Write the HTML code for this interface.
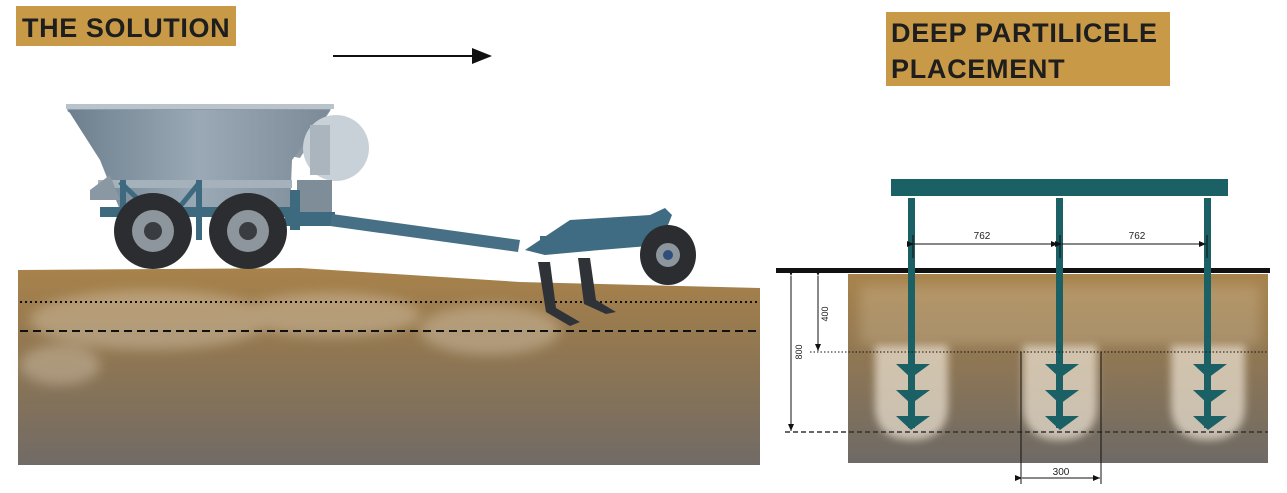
<!DOCTYPE html>
<html><head><meta charset="utf-8"><style>
html,body{margin:0;padding:0;background:#fff;width:1287px;height:493px;overflow:hidden}
svg{display:block}
</style></head><body>
<svg width="1287" height="493" viewBox="0 0 1287 493" xmlns="http://www.w3.org/2000/svg" font-family="Liberation Sans, sans-serif">
<defs>
<linearGradient id="soil" x1="0" y1="0" x2="0" y2="1">
<stop offset="0" stop-color="#a8824a"/><stop offset="0.45" stop-color="#8f7652"/><stop offset="1" stop-color="#716b66"/></linearGradient>
<linearGradient id="soil2" x1="0" y1="0" x2="0" y2="1">
<stop offset="0" stop-color="#a8834c"/><stop offset="0.4" stop-color="#927852"/><stop offset="1" stop-color="#6e6a66"/></linearGradient>
<linearGradient id="hop" x1="0" y1="0" x2="1" y2="0">
<stop offset="0" stop-color="#6d7f8e"/><stop offset="0.5" stop-color="#9aa9b5"/><stop offset="1" stop-color="#7b8a96"/></linearGradient>
<filter id="blur"><feGaussianBlur stdDeviation="6"/></filter>
<filter id="blur2"><feGaussianBlur stdDeviation="4"/></filter>
<marker id="ah" markerWidth="8" markerHeight="8" refX="7" refY="4" orient="auto" markerUnits="userSpaceOnUse"><path d="M0,1 L7,4 L0,7 z" fill="#111"/></marker>
</defs>
<rect x="16" y="6" width="220" height="40" fill="#c89a48"/>
<text x="22" y="37" font-size="27" font-weight="bold" fill="#1e1e1e" letter-spacing="0.6">THE SOLUTION</text>
<rect x="886" y="12" width="284" height="74" fill="#c89a48"/>
<text x="891" y="42" font-size="27" font-weight="bold" fill="#1e1e1e" letter-spacing="0.7">DEEP PARTILICELE</text>
<text x="891" y="78" font-size="27" font-weight="bold" fill="#1e1e1e" letter-spacing="0.7">PLACEMENT</text>
<line x1="333" y1="56" x2="475" y2="56" stroke="#111" stroke-width="2"/>
<path d="M472,48 L492,56 L472,64 z" fill="#111"/>

<path d="M18,270 L300,268 L520,282 L760,288 L760,465 L18,465 z" fill="url(#soil)"/>
<g filter="url(#blur)" fill="#e8dcc8" opacity="0.35">
<ellipse cx="150" cy="320" rx="120" ry="30"/><ellipse cx="330" cy="315" rx="90" ry="22"/><ellipse cx="490" cy="330" rx="70" ry="25"/><ellipse cx="60" cy="365" rx="40" ry="20"/>
</g>
<line x1="20" y1="302" x2="760" y2="302" stroke="#111" stroke-width="2" stroke-dasharray="2,3"/>
<line x1="20" y1="331" x2="760" y2="331" stroke="#111" stroke-width="2" stroke-dasharray="8,5"/>

<path d="M66,106 L332,106 L330,111 L300,158 L68,112 z" fill="#8d9ba7"/>
<path d="M68,110 L330,110 L292,160 L290,210 L120,210 L100,160 z" fill="url(#hop)"/>
<rect x="66" y="104" width="268" height="5" fill="#b9c3cb"/>
<rect x="98" y="180" width="194" height="8" fill="#a5b2bc"/>
<path d="M90,190 L110,175 L120,200 L90,200 z" fill="#8a98a3"/>
<ellipse cx="336" cy="148" rx="33" ry="33" fill="#c9d1d8"/>
<rect x="310" y="125" width="20" height="50" fill="#aab5be"/>
<rect x="297" y="180" width="35" height="35" fill="#7e8d98"/>
<rect x="120" y="180" width="6" height="60" fill="#3e6a80"/><rect x="196" y="180" width="6" height="60" fill="#3e6a80"/>
<rect x="100" y="207" width="200" height="10" fill="#3e6a80"/>
<path d="M120,182 L165,225 L200,182" stroke="#3e6a80" stroke-width="5" fill="none"/>
<rect x="290" y="190" width="10" height="40" fill="#3e6a80"/>
<rect x="285" y="212" width="50" height="14" fill="#3e6a80"/>
<path d="M332,214 L520,240 L518,252 L330,226 z" fill="#476f86"/>
<g>
<ellipse cx="153" cy="231" rx="39" ry="38" fill="#2b2d30"/><circle cx="153" cy="231" r="21" fill="#8d969c"/><circle cx="153" cy="231" r="9" fill="#3a3d40"/>
<ellipse cx="248" cy="231" rx="39" ry="38" fill="#2b2d30"/><circle cx="248" cy="231" r="21" fill="#8d969c"/><circle cx="248" cy="231" r="9" fill="#3a3d40"/>
</g>
<path d="M525,250 L570,220 L650,215 L665,208 L672,215 L660,245 L600,250 L545,255 z" fill="#3f6c83"/>
<rect x="540" y="236" width="70" height="12" fill="#3f6c83"/>
<ellipse cx="668" cy="255" rx="28" ry="30" fill="#2b2d30"/><circle cx="668" cy="255" r="12" fill="#8d969c"/><circle cx="668" cy="255" r="5" fill="#2d4f7a"/>
<path d="M538,262 L550,262 L556,308 L580,322 L570,326 L546,312 z" fill="#2f3338"/>
<path d="M578,258 L590,258 L596,300 L616,312 L606,314 L584,304 z" fill="#2f3338"/>

<rect x="848" y="274" width="420" height="189" fill="url(#soil2)"/>
<g filter="url(#blur2)" fill="#eee4d4" opacity="0.7">
<path d="M875,345 L948,345 L948,405 Q948,440 911,440 Q875,440 875,405 z"/>
<path d="M1023,345 L1097,345 L1097,405 Q1097,440 1060,440 Q1023,440 1023,405 z"/>
<path d="M1171,345 L1245,345 L1245,405 Q1245,440 1208,440 Q1171,440 1171,405 z"/>
</g>
<g filter="url(#blur)" fill="#d9c7a6" opacity="0.3"><rect x="860" y="285" width="400" height="60"/></g>
<rect x="776" y="268" width="494" height="5" fill="#111"/>
<rect x="891" y="179" width="337" height="17" fill="#1a6065"/>
<g fill="#1a6065">
<rect x="908" y="198" width="7" height="230"/><rect x="1056" y="198" width="7" height="230"/><rect x="1204" y="198" width="7" height="230"/>
<g id="cones">
<path d="M896,364 L930,364 L911,378 z"/><path d="M896,390 L930,390 L911,404 z"/><path d="M896,416 L930,416 L911,430 z"/>
</g>
<use href="#cones" x="149"/><use href="#cones" x="297"/>
</g>
<line x1="810" y1="352" x2="1268" y2="352" stroke="#111" stroke-width="1" stroke-dasharray="1.5,2"/>
<line x1="785" y1="432" x2="1268" y2="432" stroke="#333" stroke-width="1.5" stroke-dasharray="5,3"/>
<g stroke="#111" stroke-width="1" fill="none">
<line x1="913" y1="235" x2="913" y2="258"/><line x1="1060" y1="235" x2="1060" y2="258"/><line x1="1207" y1="235" x2="1207" y2="258"/>
<line x1="914" y1="244" x2="1058" y2="244" marker-start="url(#ah)" marker-end="url(#ah)"/>
<line x1="1062" y1="244" x2="1206" y2="244" marker-start="url(#ah)" marker-end="url(#ah)"/>
<line x1="791" y1="276" x2="791" y2="431" marker-start="url(#ah)" marker-end="url(#ah)"/>
<line x1="818" y1="276" x2="818" y2="351" marker-start="url(#ah)" marker-end="url(#ah)"/>
<line x1="1021" y1="352" x2="1021" y2="484"/><line x1="1101" y1="352" x2="1101" y2="484"/>
<line x1="1022" y1="478" x2="1100" y2="478" marker-start="url(#ah)" marker-end="url(#ah)"/>
</g>
<text x="982" y="239" font-size="10" text-anchor="middle" fill="#222">762</text>
<text x="1137" y="239" font-size="10" text-anchor="middle" fill="#222">762</text>
<text x="1061" y="475" font-size="10" text-anchor="middle" fill="#222">300</text>
<text transform="translate(828,314) rotate(-90)" font-size="9" text-anchor="middle" fill="#222">400</text>
<text transform="translate(802,352) rotate(-90)" font-size="9" text-anchor="middle" fill="#222">800</text>
</svg>
</body></html>
